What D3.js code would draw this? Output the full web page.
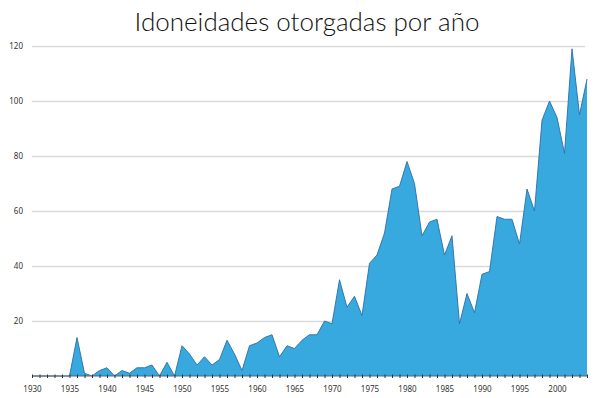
<!DOCTYPE html>
<html>
<head>
<meta charset="utf-8">
<script src="https://cdn.jsdelivr.net/npm/d3@7"></script>
<style>
  body { margin: 0; background: #fff; }
  svg { display: block; }
  .title { font-family: Lato, "Noto Sans", sans-serif; }
  .axis text { font-family: "Noto Sans", Lato, sans-serif; }
</style>
</head>
<body>
<figure id="chart" style="margin:0"></figure>
<script>
// años y cantidad de idoneidades otorgadas
const years = d3.range(1930, 2005);
const counts = [
  0, 0, 0, 0, 0, 0, 14, 1, 0, 2,      // 1930-1939
  3, 0, 2, 1, 3, 3, 4, 0, 5, 0,       // 1940-1949
  11, 8, 4, 7, 4, 6, 13, 8, 2, 11,    // 1950-1959
  12, 14, 15, 7, 11, 10, 13, 15, 15, 20, // 1960-1969
  19, 35, 25, 29, 22, 41, 44, 52, 68, 69, // 1970-1979
  78, 70, 51, 56, 57, 44, 51, 19, 30, 23, // 1980-1989
  37, 38, 58, 57, 57, 48, 68, 60, 93, 100, // 1990-1999
  94, 81, 119, 95, 108                // 2000-2004
];
const yTicks = [20, 40, 60, 80, 100, 120];
const titleText = "Idoneidades otorgadas por año";

const data = years.map((y, i) => ({ year: y, value: counts[i] }));

const size = { width: 600, height: 398 };
const margin = { top: 46, right: 13, bottom: 22, left: 32 };

const svg = d3.select("figure#chart")
  .append("svg")
  .attr("width", size.width)
  .attr("height", size.height);

const x = d3.scaleLinear()
  .domain([1930, 2004])
  .range([margin.left, size.width - margin.right]);

const y = d3.scaleLinear()
  .domain([0, 120])
  .range([size.height - margin.bottom, margin.top]);

// title
svg.append("text")
  .attr("class", "title")
  .attr("x", 307)
  .attr("y", 31)
  .attr("text-anchor", "middle")
  .attr("font-size", 26)
  .attr("font-weight", 300)
  .attr("fill", "#111")
  .text(titleText);

// grid + y labels
const yAxis = svg.append("g")
  .attr("class", "axis y")
  .attr("transform", "translate(" + margin.left + ",0)")
  .call(d3.axisLeft(y).tickValues(yTicks)
    .tickSize(-(size.width - margin.right - margin.left - 2))
    .tickPadding(9))
  .call(g => g.select(".domain").remove())
  .call(g => g.selectAll(".tick line")
    .attr("stroke", "#d9d9d9")
    .attr("stroke-width", 1.5))
  .call(g => g.selectAll(".tick text")
    .attr("font-size", 8)
    .attr("fill", "#333"));

// area
const area = d3.area()
  .x(d => x(d.year))
  .y0(y(0))
  .y1(d => y(d.value));

const line = d3.line()
  .x(d => x(d.year))
  .y(d => y(d.value));

svg.append("path")
  .datum(data)
  .attr("d", area)
  .attr("fill", "#37a9df");

svg.append("path")
  .datum(data)
  .attr("d", line)
  .attr("fill", "none")
  .attr("stroke", "#2b6ea6")
  .attr("stroke-width", 0.9)
  .attr("stroke-linejoin", "miter");

// x axis with a tick every year, label every 5
const xAxis = svg.append("g")
  .attr("class", "axis x")
  .attr("transform", "translate(0," + y(0) + ")")
  .call(d3.axisBottom(x)
    .tickValues(years)
    .tickSize(3)
    .tickPadding(7)
    .tickFormat(d => d % 5 === 0 ? d : ""))
  .call(g => g.select(".domain")
    .attr("stroke", "#55677a")
    .attr("stroke-width", 1.2)
    .attr("d", "M" + x(1930) + ",0H" + x(2004)))
  .call(g => g.selectAll(".tick line")
    .attr("y1", -1.5)
    .attr("y2", 2)
    .attr("stroke", "#333"))
  .call(g => g.selectAll(".tick text")
    .attr("font-size", 8)
    .attr("fill", "#333"));
</script>
</body>
</html>
